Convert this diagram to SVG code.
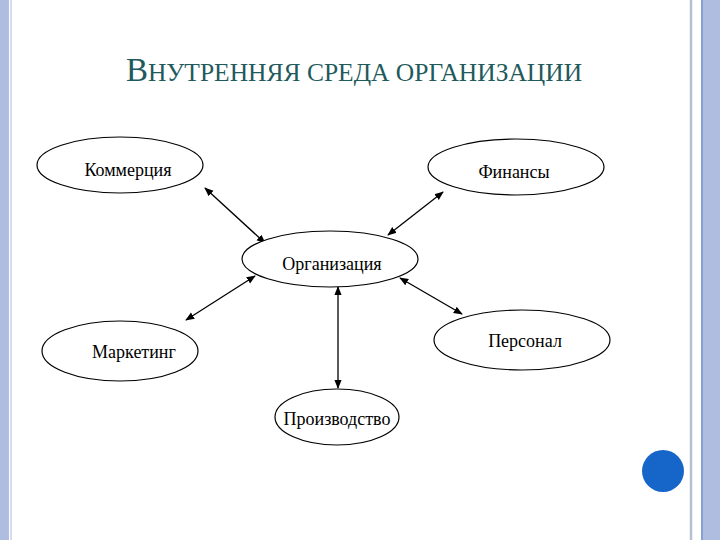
<svg xmlns="http://www.w3.org/2000/svg" width="720" height="540" viewBox="0 0 720 540">
<defs>
<marker id="a" viewBox="0 0 10 10" refX="9" refY="5" markerWidth="7" markerHeight="7" orient="auto-start-reverse"><path d="M0,1 L10,5 L0,9 z" fill="#000"/></marker>
<style>
.n{fill:#fff;stroke:#000;stroke-width:1.2}
.t{font-family:"Liberation Serif",serif;font-size:18px;fill:#000;text-anchor:middle}
.c{stroke:#000;stroke-width:1.3;marker-start:url(#a);marker-end:url(#a)}
</style>
</defs>
<rect width="720" height="540" fill="#fff"/>
<rect x="0" y="0" width="9" height="540" fill="#aebde0"/>
<line x1="11" y1="0" x2="11" y2="540" stroke="#c8d0e8" stroke-width="1.5"/>
<line x1="691" y1="0" x2="691" y2="540" stroke="#b7bfd2" stroke-width="2.5"/>
<line x1="702" y1="0" x2="702" y2="540" stroke="#5b7fc0" stroke-width="1.5"/>
<rect x="703" y="0" width="17" height="540" fill="#aebde0"/>
<circle cx="663" cy="471" r="21" fill="#1566c8"/>
<text x="354" y="81" font-family="Liberation Serif,serif" font-size="25.5" fill="#1f5a5c" text-anchor="middle"><tspan font-size="33">В</tspan>НУТРЕННЯЯ СРЕДА ОРГАНИЗАЦИИ</text>
<g id="connectors">
<line class="c" x1="205" y1="188" x2="265" y2="243"/>
<line class="c" x1="443" y1="192" x2="388" y2="235"/>
<line class="c" x1="255" y1="276" x2="186" y2="320"/>
<line class="c" x1="400" y1="278" x2="462" y2="314"/>
<line class="c" x1="338" y1="287" x2="338" y2="388"/>
</g>
<g id="kommerciya"><ellipse class="n" cx="120" cy="165" rx="83" ry="28"/><text class="t" x="128" y="176">Коммерция</text></g>
<g id="finansy"><ellipse class="n" cx="516" cy="167" rx="88" ry="28"/><text class="t" x="514" y="178">Финансы</text></g>
<g id="organizaciya"><ellipse class="n" cx="330" cy="259" rx="88" ry="28"/><text class="t" x="332" y="270">Организация</text></g>
<g id="marketing"><ellipse class="n" cx="120" cy="351" rx="78" ry="30"/><text class="t" x="134" y="358">Маркетинг</text></g>
<g id="personal"><ellipse class="n" cx="522" cy="340" rx="88" ry="30"/><text class="t" x="525" y="347">Персонал</text></g>
<g id="proizvodstvo"><ellipse class="n" cx="337" cy="417" rx="62" ry="28"/><text class="t" x="337" y="425">Производство</text></g>
</svg>
